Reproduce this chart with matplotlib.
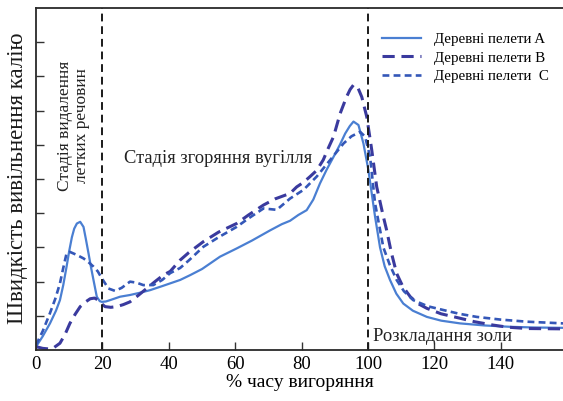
import matplotlib
matplotlib.use("Agg")
import matplotlib.pyplot as plt

plt.rcParams['font.family'] = ['Liberation Serif', 'DejaVu Serif']

# Potassium release rate vs. % burnout time for three wood pellet samples
a_x = [0, 2, 4.2, 6, 7.2, 8.2, 9.2, 10, 10.8, 11.5, 12.3, 13.3, 14.3, 15, 15.8, 16.5,
       17.3, 18.3, 19.2, 19.8, 21, 22.3, 25.3, 28.3, 31, 34.3, 38, 40.4, 43.4, 46.4,
       50, 55.4, 60.4, 65, 70.5, 74, 76.5, 79, 81.5, 83.5, 85.5, 87.5, 89.6, 91.5,
       93.1, 94.5, 95.6, 97.1, 98.6, 100.1, 101.1, 102.1, 103.6, 105, 106.6, 108.5,
       110.6, 113.5, 117.7, 122, 127.7, 135, 142.8, 150, 158.7]
a_y = [0.1, 0.4, 0.78, 1.15, 1.46, 1.9, 2.44, 2.9, 3.3, 3.55, 3.7, 3.75, 3.6, 3.25,
       2.83, 2.45, 2.05, 1.56, 1.43, 1.41, 1.42, 1.46, 1.56, 1.61, 1.67, 1.75, 1.87,
       1.95, 2.05, 2.19, 2.37, 2.73, 2.97, 3.2, 3.5, 3.68, 3.78, 3.95, 4.09, 4.4,
       4.87, 5.27, 5.65, 6.0, 6.33, 6.55, 6.68, 6.58, 6.04, 5.26, 4.58, 3.9, 3.0,
       2.45, 2.05, 1.65, 1.36, 1.15, 0.97, 0.86, 0.78, 0.72, 0.68, 0.66, 0.65]

b_x = [0, 2, 4.2, 5.5, 7.2, 8.7, 10.2, 11.8, 13.3, 14.8, 16.3, 17.6, 18.8, 19.8, 20.8,
       22.5, 24.3, 26.3, 28.3, 30.8, 33.3, 35.8, 38.3, 40.4, 43.4, 46, 50.4, 55, 60.4,
       64, 68.5, 72, 76.5, 78.5, 80.5, 82.5, 84.5, 86.5, 88, 89.6, 91.6, 93.5, 94.6,
       95.6, 96.8, 98.1, 99.6, 101.1, 102.6, 104.6, 105.6, 107, 108.6, 110.5, 112.7,
       115, 117.7, 122, 127.7, 132, 137.7, 142, 147.8, 158.7]
b_y = [0.1, 0.05, 0.03, 0.08, 0.2, 0.45, 0.78, 1.05, 1.27, 1.4, 1.5, 1.52, 1.46, 1.35,
       1.27, 1.25, 1.27, 1.33, 1.41, 1.6, 1.8, 2.0, 2.19, 2.3, 2.63, 2.85, 3.17, 3.45,
       3.7, 3.95, 4.24, 4.42, 4.58, 4.77, 4.9, 5.07, 5.25, 5.56, 5.9, 6.24, 6.92,
       7.4, 7.62, 7.75, 7.7, 7.4, 6.82, 5.85, 4.77, 3.9, 3.5, 2.85, 2.24, 1.85, 1.56,
       1.36, 1.22, 1.06, 0.93, 0.83, 0.73, 0.67, 0.63, 0.62]

c_x = [0, 2, 4.2, 5.8, 7.2, 8.2, 9.2, 10.2, 12.3, 14.3, 15.8, 17.3, 18.6, 19.8, 20.8,
       21.8, 23.8, 25.8, 28.3, 30.3, 32.3, 35.3, 38, 40.4, 43.4, 46, 50.4, 55, 60.4,
       64, 68.5, 72.5, 76.5, 80.5, 84.5, 88.6, 92.6, 95, 97.6, 99.1, 100.6, 102.1,
       104.6, 106.5, 108.6, 110.8, 113.6, 118, 122.7, 127.5, 132.7, 140, 147.8, 158.7]
c_y = [0.15, 0.55, 1.08, 1.5, 1.95, 2.4, 2.83, 2.87, 2.78, 2.68, 2.57, 2.44, 2.3, 2.1,
       1.95, 1.8, 1.73, 1.82, 2.0, 1.97, 1.9, 1.9, 2.05, 2.25, 2.4, 2.62, 3.02, 3.3,
       3.6, 3.85, 4.14, 4.1, 4.43, 4.68, 5.07, 5.56, 6.04, 6.25, 6.38, 6.24, 5.65,
       4.29, 3.0, 2.5, 2.05, 1.72, 1.46, 1.28, 1.17, 1.06, 0.97, 0.89, 0.83, 0.78]

series_labels = ['Деревні пелети A', 'Деревні пелети B', 'Деревні пелети  C']
stage_bounds = [20, 100]
x_ticks = [0, 20, 40, 60, 80, 100, 120, 140]

fig = plt.figure(figsize=(5.63, 4.01), dpi=100)
ax = fig.add_axes([0.064, 0.127, 0.936, 0.853])

ax.plot(a_x, a_y, color='#4a7fd2', lw=1.6, label=series_labels[0])
ax.plot(b_x, b_y, color='#3a3a9e', lw=2.2, dashes=(4, 2.2), label=series_labels[1])
ax.plot(c_x, c_y, color='#3457b8', lw=1.9, dashes=(2.6, 1.6), label=series_labels[2])

for xb in stage_bounds:
    ax.axvline(xb, color='#1a1a1a', lw=1.4, dashes=(4, 2.5))

ax.set_xlim(0, 158.7)
ax.set_ylim(0, 10)
ax.set_xticks(x_ticks)
ax.set_xticklabels([str(t) for t in x_ticks], fontsize=13.5)
ax.set_yticks(range(1, 10))
ax.set_yticklabels([])
ax.tick_params(direction='in', length=6, width=1, color='#333333', pad=4)
ax.spines['right'].set_visible(False)
for s in ['left', 'bottom', 'top']:
    ax.spines[s].set_linewidth(1.3)
    ax.spines[s].set_color('#2a2a2a')

ax.set_xlabel('% часу вигоряння', fontsize=14, labelpad=1)
fig.text(0.031, 0.556, 'Швидкість вивільнення калію', rotation=90, ha='center',
         va='center', fontsize=16.5, color='#1a1a1a')

ax.text(11.3, 6.55, 'Стадія видалення\nлетких речовин', rotation=90, ha='center',
        va='center', fontsize=12.5, linespacing=1.1, color='#222222')
ax.text(26.5, 5.6, 'Стадія згоряння вугілля', ha='left', va='center',
        fontsize=13.3, color='#222222')
ax.text(101.5, 0.4, 'Розкладання золи', ha='left', va='center',
        fontsize=13.3, color='#222222')

leg = ax.legend(loc='upper left', bbox_to_anchor=(0.645, 0.945), frameon=False,
                fontsize=10.8, handlelength=2.6, handletextpad=0.85,
                labelspacing=0.32, borderaxespad=0)

fig.savefig('out.png', dpi=100, facecolor='white')
